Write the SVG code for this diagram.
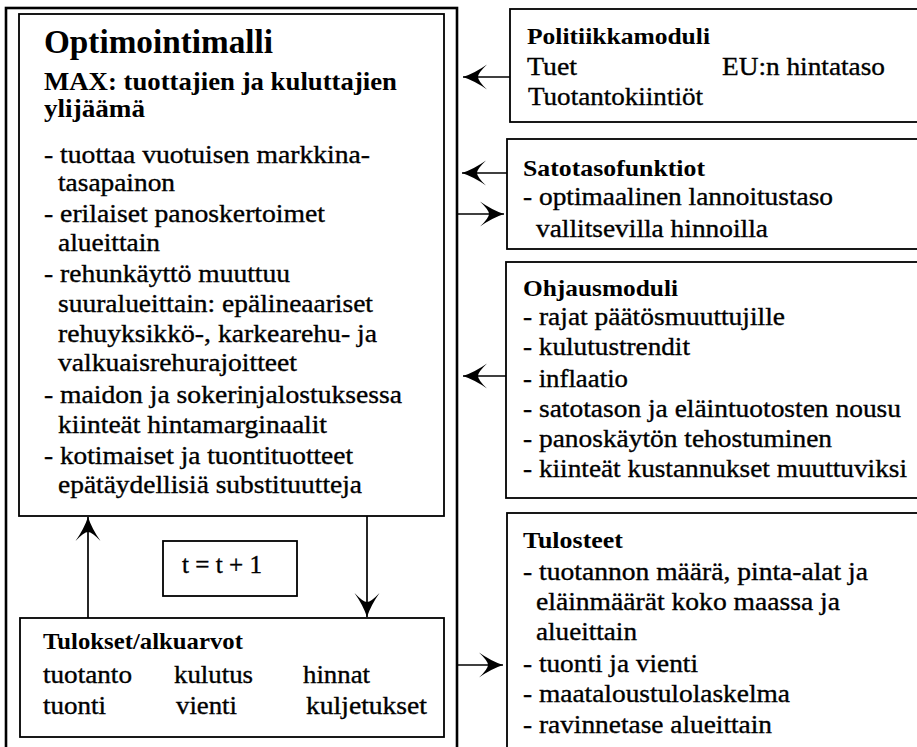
<svg xmlns="http://www.w3.org/2000/svg" width="917" height="747" viewBox="0 0 917 747">
<style>
.box{fill:none;stroke:#000;stroke-width:1.8}
.outer{fill:none;stroke:#000;stroke-width:2.6}
.con{stroke:#000;stroke-width:1.7;fill:none}
text{font-family:"Liberation Serif","Times New Roman",serif;fill:#000}
.b{font-size:25px;font-weight:700}
.h{font-size:33px;font-weight:700}
.hb{font-size:23px;font-weight:700}
.t{font-size:25px;stroke:#000;stroke-width:0.35}
</style>
<defs>
<marker id="ah" markerUnits="userSpaceOnUse" markerWidth="25" markerHeight="27" viewBox="0 -13.5 25 27" refX="24" refY="0" orient="auto">
<path d="M24,0 Q12,-4 0,-12.5 Q9,-4 9,0 Q9,4 0,12.5 Q12,4 24,0 Z" fill="#000"/>
</marker>
</defs>
<rect width="917" height="747" fill="#fff"/>
<rect class="outer" x="6" y="8" width="451" height="760"/>

<g id="optimointimalli">
<rect class="box" x="19" y="14" width="425" height="502"/>
<text class="h" x="44" y="53" textLength="229" lengthAdjust="spacingAndGlyphs">Optimointimalli</text>
<text class="b" x="44" y="90" textLength="353" lengthAdjust="spacingAndGlyphs">MAX: tuottajien ja kuluttajien</text>
<text class="b" x="44" y="117" textLength="101" lengthAdjust="spacingAndGlyphs">ylijäämä</text>
<text class="t" x="44" y="163" textLength="326" lengthAdjust="spacingAndGlyphs">- tuottaa vuotuisen markkina-</text>
<text class="t" x="58" y="191" textLength="117" lengthAdjust="spacingAndGlyphs">tasapainon</text>
<text class="t" x="44" y="222" textLength="281" lengthAdjust="spacingAndGlyphs">- erilaiset panoskertoimet</text>
<text class="t" x="58" y="251" textLength="102" lengthAdjust="spacingAndGlyphs">alueittain</text>
<text class="t" x="44" y="282" textLength="246" lengthAdjust="spacingAndGlyphs">- rehunkäyttö muuttuu</text>
<text class="t" x="58" y="312" textLength="315" lengthAdjust="spacingAndGlyphs">suuralueittain: epälineaariset</text>
<text class="t" x="58" y="342" textLength="319" lengthAdjust="spacingAndGlyphs">rehuyksikkö-, karkearehu- ja</text>
<text class="t" x="58" y="371" textLength="239" lengthAdjust="spacingAndGlyphs">valkuaisrehurajoitteet</text>
<text class="t" x="44" y="403" textLength="358" lengthAdjust="spacingAndGlyphs">- maidon ja sokerinjalostuksessa</text>
<text class="t" x="58" y="433" textLength="269" lengthAdjust="spacingAndGlyphs">kiinteät hintamarginaalit</text>
<text class="t" x="44" y="464" textLength="309" lengthAdjust="spacingAndGlyphs">- kotimaiset ja tuontituotteet</text>
<text class="t" x="58" y="493" textLength="304" lengthAdjust="spacingAndGlyphs">epätäydellisiä substituutteja</text>
</g>

<g id="iteraatio">
<rect class="box" x="163" y="541" width="134" height="55"/>
<text class="t" x="182" y="573" textLength="80" lengthAdjust="spacingAndGlyphs">t = t + 1</text>
</g>

<g id="tulokset">
<rect class="box" x="20" y="618" width="424" height="119"/>
<text class="hb" x="43" y="649" textLength="200" lengthAdjust="spacingAndGlyphs">Tulokset/alkuarvot</text>
<text class="t" x="43" y="683" textLength="89" lengthAdjust="spacingAndGlyphs">tuotanto</text>
<text class="t" x="174" y="683" textLength="79" lengthAdjust="spacingAndGlyphs">kulutus</text>
<text class="t" x="303" y="683" textLength="67" lengthAdjust="spacingAndGlyphs">hinnat</text>
<text class="t" x="43" y="714" textLength="63" lengthAdjust="spacingAndGlyphs">tuonti</text>
<text class="t" x="176" y="714" textLength="61" lengthAdjust="spacingAndGlyphs">vienti</text>
<text class="t" x="306" y="714" textLength="121" lengthAdjust="spacingAndGlyphs">kuljetukset</text>
</g>

<g id="politiikkamoduli">
<rect class="box" x="510" y="9" width="420" height="113"/>
<text class="hb" x="527" y="44" textLength="183" lengthAdjust="spacingAndGlyphs">Politiikkamoduli</text>
<text class="t" x="527" y="75" textLength="50" lengthAdjust="spacingAndGlyphs">Tuet</text>
<text class="t" x="722" y="75" textLength="163" lengthAdjust="spacingAndGlyphs">EU:n hintataso</text>
<text class="t" x="528" y="105" textLength="175" lengthAdjust="spacingAndGlyphs">Tuotantokiintiöt</text>
</g>

<g id="satotasofunktiot">
<rect class="box" x="507" y="139" width="423" height="110"/>
<text class="hb" x="523" y="176" textLength="182" lengthAdjust="spacingAndGlyphs">Satotasofunktiot</text>
<text class="t" x="523" y="205" textLength="310" lengthAdjust="spacingAndGlyphs">- optimaalinen lannoitustaso</text>
<text class="t" x="536" y="237" textLength="232" lengthAdjust="spacingAndGlyphs">vallitsevilla hinnoilla</text>
</g>

<g id="ohjausmoduli">
<rect class="box" x="506" y="262" width="424" height="236"/>
<text class="hb" x="523" y="296" textLength="155" lengthAdjust="spacingAndGlyphs">Ohjausmoduli</text>
<text class="t" x="523" y="325" textLength="262" lengthAdjust="spacingAndGlyphs">- rajat päätösmuuttujille</text>
<text class="t" x="523" y="355" textLength="167" lengthAdjust="spacingAndGlyphs">- kulutustrendit</text>
<text class="t" x="523" y="387" textLength="105" lengthAdjust="spacingAndGlyphs">- inflaatio</text>
<text class="t" x="523" y="417" textLength="378" lengthAdjust="spacingAndGlyphs">- satotason ja eläintuotosten nousu</text>
<text class="t" x="523" y="447" textLength="309" lengthAdjust="spacingAndGlyphs">- panoskäytön tehostuminen</text>
<text class="t" x="523" y="477" textLength="384" lengthAdjust="spacingAndGlyphs">- kiinteät kustannukset muuttuviksi</text>
</g>

<g id="tulosteet">
<rect class="box" x="507" y="513" width="423" height="260"/>
<text class="hb" x="523" y="548" textLength="100" lengthAdjust="spacingAndGlyphs">Tulosteet</text>
<text class="t" x="523" y="580" textLength="345" lengthAdjust="spacingAndGlyphs">- tuotannon määrä, pinta-alat ja</text>
<text class="t" x="536" y="610" textLength="304" lengthAdjust="spacingAndGlyphs">eläinmäärät koko maassa ja</text>
<text class="t" x="536" y="640" textLength="101" lengthAdjust="spacingAndGlyphs">alueittain</text>
<text class="t" x="523" y="672" textLength="175" lengthAdjust="spacingAndGlyphs">- tuonti ja vienti</text>
<text class="t" x="523" y="702" textLength="267" lengthAdjust="spacingAndGlyphs">- maataloustulolaskelma</text>
<text class="t" x="523" y="733" textLength="249" lengthAdjust="spacingAndGlyphs">- ravinnetase alueittain</text>
</g>

<g id="connectors">
<line class="con" x1="510" y1="77" x2="463" y2="77" marker-end="url(#ah)"/>
<line class="con" x1="507" y1="173" x2="462" y2="173" marker-end="url(#ah)"/>
<line class="con" x1="457" y1="214" x2="504" y2="214" marker-end="url(#ah)"/>
<line class="con" x1="506" y1="376" x2="463" y2="376" marker-end="url(#ah)"/>
<line class="con" x1="457" y1="665" x2="503" y2="665" marker-end="url(#ah)"/>
<line class="con" x1="88" y1="618" x2="88" y2="517" marker-end="url(#ah)"/>
<line class="con" x1="367" y1="516" x2="367" y2="617" marker-end="url(#ah)"/>
</g>
</svg>
